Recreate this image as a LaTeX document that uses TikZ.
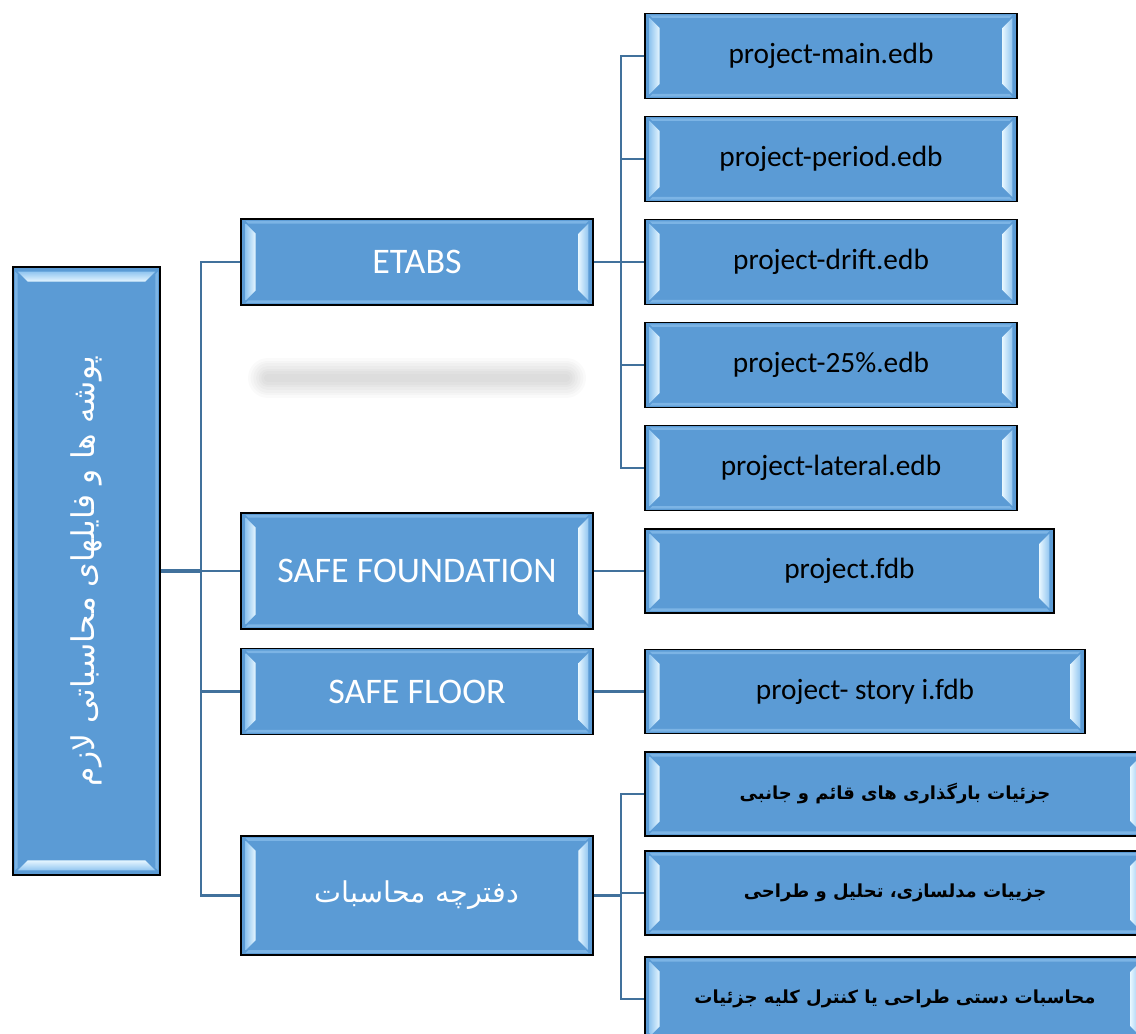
\documentclass[tikz,border=0pt]{standalone}
\usepackage{fontspec}
\usepackage{graphicx}
\setmainfont{Carlito}
\newfontfamily\farsi[Script=Arabic]{DejaVu Sans}
\TeXXeTstate=1
\definecolor{boxblue}{HTML}{5B9BD5}
\definecolor{linkblue}{HTML}{41719C}
\definecolor{bevlight}{HTML}{E6F6FF}
\definecolor{bevmid}{HTML}{92C6F0}
\tikzset{
  sidebevel/.style={path picture={
    \path (path picture bounding box.north west) coordinate (nw) (path picture bounding box.south east) coordinate (se);
    \fill[left color=bevmid,right color=bevlight] ([shift={(3.5pt,-3.5pt)}]nw) -- ([shift={(11pt,-11pt)}]nw) -- ([shift={(11pt,11pt)}]nw |- se) -- ([shift={(3.5pt,3.5pt)}]nw |- se) -- cycle;
    \fill[left color=bevlight,right color=bevmid] ([shift={(-3.5pt,-3.5pt)}]se |- nw) -- ([shift={(-11pt,-11pt)}]se |- nw) -- ([shift={(-11pt,11pt)}]se) -- ([shift={(-3.5pt,3.5pt)}]se) -- cycle;
    \fill[bevmid,opacity=.6] ([shift={(3.5pt,-1.5pt)}]nw) -- ([shift={(-3.5pt,-1.5pt)}]se |- nw) -- ([shift={(-5.5pt,-3.5pt)}]se |- nw) -- ([shift={(5.5pt,-3.5pt)}]nw) -- cycle;
    \fill[bevmid,opacity=.6] ([shift={(3.5pt,1.5pt)}]nw |- se) -- ([shift={(-3.5pt,1.5pt)}]se) -- ([shift={(-5.5pt,3.5pt)}]se) -- ([shift={(5.5pt,3.5pt)}]nw |- se) -- cycle;
  }},
  endbevel/.style={path picture={
    \path (path picture bounding box.north west) coordinate (nw) (path picture bounding box.south east) coordinate (se);
    \fill[top color=bevmid,bottom color=bevlight] ([shift={(3.5pt,-3.5pt)}]nw) -- ([shift={(-3.5pt,-3.5pt)}]se |- nw) -- ([shift={(-11pt,-11pt)}]se |- nw) -- ([shift={(11pt,-11pt)}]nw) -- cycle;
    \fill[top color=bevlight,bottom color=bevmid] ([shift={(3.5pt,3.5pt)}]nw |- se) -- ([shift={(-3.5pt,3.5pt)}]se) -- ([shift={(-11pt,11pt)}]se) -- ([shift={(11pt,11pt)}]nw |- se) -- cycle;
    \fill[bevmid,opacity=.6] ([shift={(1.5pt,-3.5pt)}]nw) -- ([shift={(3.5pt,-5.5pt)}]nw) -- ([shift={(3.5pt,5.5pt)}]nw |- se) -- ([shift={(1.5pt,3.5pt)}]nw |- se) -- cycle;
    \fill[bevmid,opacity=.6] ([shift={(-1.5pt,-3.5pt)}]se |- nw) -- ([shift={(-3.5pt,-5.5pt)}]se |- nw) -- ([shift={(-3.5pt,5.5pt)}]se) -- ([shift={(-1.5pt,3.5pt)}]se) -- cycle;
  }},
  filebox/.style={rectangle,draw=black,line width=1.1pt,fill=boxblue,inner sep=0pt},
  mainbox/.style={filebox,sidebevel,text=white,font=\fontsize{27}{32}\selectfont},
  subbox/.style={filebox,sidebevel,text=black,font=\fontsize{22}{26}\selectfont},
  farsibox/.style={filebox,sidebevel,text=black,font=\farsi\bfseries\fontsize{13.5}{16}\selectfont},
  link/.style={draw=linkblue,line width=1.8pt},
  rootlink/.style={draw=linkblue,line width=3.5pt},
}

\begin{document}
\begin{tikzpicture}[x=0.75pt,y=0.75pt]
\useasboundingbox (0,0) rectangle (1136,-1034);
\clip (0,0) rectangle (1136,-1034);

\node(root) at (86.5,-571) [filebox,endbevel,minimum width=110.25pt,minimum height=456pt,text=white,font=\farsi\fontsize{23.5}{28}\selectfont]{\rotatebox{90}{\beginR پوشه ها و فایلهای محاسباتی لازم\endR}};

\node(etabs) at (417,-262) [mainbox,minimum width=264pt,minimum height=64.5pt]{ETABS};
\node(sfound) at (417,-571) [mainbox,minimum width=264pt,minimum height=87pt]{SAFE FOUNDATION};
\node(sfloor) at (417,-691.5) [mainbox,minimum width=264pt,minimum height=64.5pt]{SAFE FLOOR};
\node(calc) at (417,-895.5) [mainbox,minimum width=264pt,minimum height=89pt,font=\farsi\fontsize{21.5}{26}\selectfont]{\beginR دفترچه محاسبات\endR};

\node(emain) at (831,-56) [subbox,minimum width=279pt,minimum height=64pt]{project-main.edb};
\node(eperiod) at (831,-159) [subbox,minimum width=279pt,minimum height=64pt]{project-period.edb};
\node(edrift) at (831,-262) [subbox,minimum width=279pt,minimum height=64pt]{project-drift.edb};
\node(equart) at (831,-365) [subbox,minimum width=279pt,minimum height=64pt]{project-25\%.edb};
\node(elat) at (831,-468) [subbox,minimum width=279pt,minimum height=64pt]{project-lateral.edb};

\node(fdb) at (849.5,-571) [subbox,minimum width=306.75pt,minimum height=63pt]{project.fdb};
\node(story) at (865,-691.5) [subbox,minimum width=330pt,minimum height=63pt]{project- story i.fdb};

\node(cload) at (895,-794) [farsibox,minimum width=375pt,minimum height=63pt]{\beginR جزئیات بارگذاری های قائم و جانبی\endR};
\node(cmodel) at (895,-893) [farsibox,minimum width=375pt,minimum height=63pt]{\beginR جزییات مدلسازی، تحلیل و طراحی\endR};
\node(chand) at (895,-999) [farsibox,minimum width=375pt,minimum height=63pt]{\beginR محاسبات دستی طراحی یا کنترل کلیه جزئیات\endR};

%\node(blur) at (417,-378) {};
\foreach \w in {30,26,22,18,14,10,6}
  \draw[black,line width=\w pt,opacity=0.018,line cap=round] (268,-378) -- (566,-378);

\coordinate(T) at (201,-571);
\coordinate(E) at (621,-262);
\coordinate(C) at (621,-895.5);

\draw[rootlink] (root.east) -- (T);
\draw[link] (T) -- (sfound.west);
\draw[link] (etabs.west) -| (T |- calc.west) -- (calc.west);
\draw[link] (T |- sfloor.west) -- (sfloor.west);

\draw[link] (etabs.east) -- (E);
\draw[link] (emain.west) -| (E |- elat.west) -- (elat.west);
\draw[link] (E |- eperiod.west) -- (eperiod.west);
\draw[link] (E |- edrift.west) -- (edrift.west);
\draw[link] (E |- equart.west) -- (equart.west);

\draw[link] (sfound.east) -- (fdb.west);
\draw[link] (sfloor.east) -- (story.west);

\draw[link] (calc.east) -- (C);
\draw[link] (cload.west) -| (C |- chand.west) -- (chand.west);
\draw[link] (C |- cmodel.west) -- (cmodel.west);
\end{tikzpicture}
\end{document}
